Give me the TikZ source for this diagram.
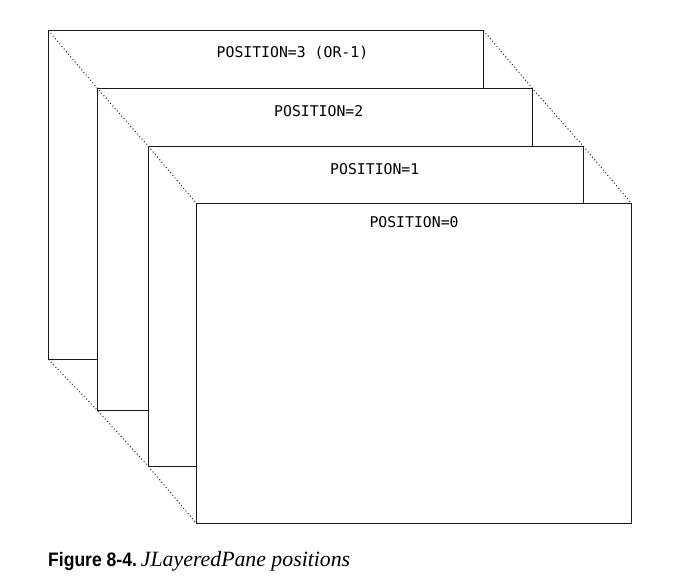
\documentclass[tikz,border=0pt]{standalone}
\usepackage{fontspec}
\newfontfamily\monofnt{DejaVu Sans Mono}
\newfontfamily\capsans[FakeStretch=0.9]{Liberation Sans}
\newfontfamily\capserif{Liberation Serif}
\begin{document}
\begin{tikzpicture}[x=1pt,y=-1pt,
  pane/.style={draw=black!90, line width=1pt, fill=white, inner sep=0pt, outer sep=0pt,
    minimum width=435pt, anchor=north west},
  guide/.style={draw=black!85, line width=1pt, dash pattern=on 1pt off 2.4pt},
  lbl/.style={font=\monofnt\fontsize{14.8}{16}\selectfont, anchor=base west, inner sep=0pt}]
\useasboundingbox (0,0) rectangle (681,582);
% panes, back to front
\node[pane, minimum height=329pt] (p3) at (48.5,30.5) {};
\node[lbl] (t3) at (216.5,57.5) {POSITION=3 (OR-1)};
\node[pane, minimum height=322pt] (p2) at (97.5,88.5) {};
\node[lbl] (t2) at (274,116) {POSITION=2};
\node[pane, minimum height=320pt] (p1) at (148.5,146.5) {};
\node[lbl] (t1) at (330,174) {POSITION=1};
\node[pane, minimum height=320pt] (p0) at (196.5,203.5) {};
\node[lbl] (t0) at (369.3,227.3) {POSITION=0};
% dotted guides
\draw[guide] (p3.north west) -- (p2.north west) -- (p1.north west) -- (p0.north west);
\draw[guide] (p3.north east) -- (p2.north east) -- (p1.north east) -- (p0.north east);
\draw[guide] (p3.south west) -- (p2.south west) -- (p1.south west) -- (p0.south west);
% caption
\node[anchor=base west, inner sep=0pt] (cap) at (48,566)
  {{\capsans\bfseries\fontsize{19.5}{21}\selectfont Figure 8-4.}\hspace{4pt}{\capserif\itshape\fontsize{21.8}{24}\selectfont JLayeredPane positions}};
\end{tikzpicture}
\end{document}
